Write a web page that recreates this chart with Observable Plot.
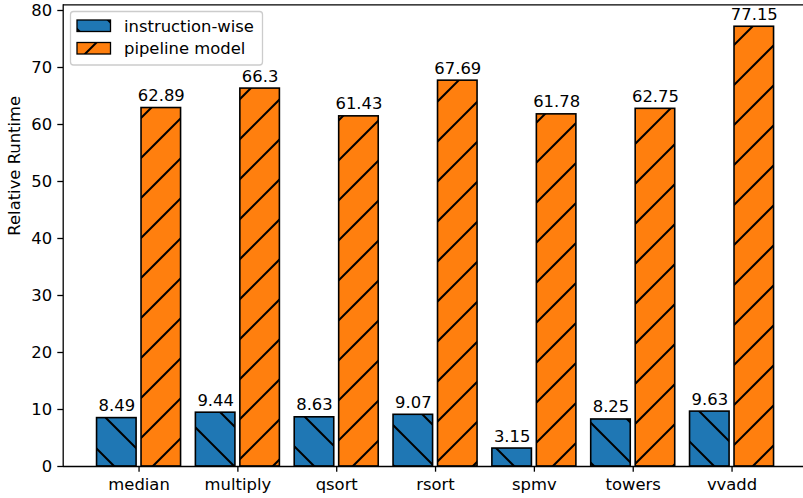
<!DOCTYPE html>
<html><head><meta charset="utf-8">
<script src="https://cdn.jsdelivr.net/npm/d3@7"></script>
<script src="https://cdn.jsdelivr.net/npm/@observablehq/plot@0.6"></script>
<style>body{margin:0;background:#fff} svg{display:block}</style>
</head><body><div id="chart"></div>
<script>
const categories = ["median", "multiply", "qsort", "rsort", "spmv", "towers", "vvadd"];
const instructionWise = [8.49, 9.44, 8.63, 9.07, 3.15, 8.25, 9.63];
const pipelineModel = [62.89, 66.3, 61.43, 67.69, 61.78, 62.75, 77.15];
const seriesNames = ["instruction-wise", "pipeline model"];
const yTicks = [0, 10, 20, 30, 40, 50, 60, 70, 80];

const barWidth = 0.4, offset = 0.225;
const blueRows = categories.map((c, i) => ({series: seriesNames[0], cat: c, x1: i - offset - barWidth / 2, x2: i - offset + barWidth / 2, value: instructionWise[i]}));
const orangeRows = categories.map((c, i) => ({series: seriesNames[1], cat: c, x1: i + offset - barWidth / 2, x2: i + offset + barWidth / 2, value: pipelineModel[i]}));
const allRows = blueRows.concat(orangeRows);

const xMin = -0.7675, xMax = 6.7675, yMax = 81.0;
const FS = 16.4;

const plot = Plot.plot({
  width: 803,
  height: 498,
  marginLeft: 63,
  marginRight: 0,
  marginTop: 4.3,
  marginBottom: 32,
  style: {fontFamily: "'DejaVu Sans', sans-serif", fontSize: FS + "px", background: "white", color: "black"},
  x: {domain: [xMin, xMax], range: [62.7, 807.4]},
  y: {domain: [0, yMax]},
  marks: [
    Plot.rectY(blueRows, {x1: "x1", x2: "x2", y: "value", fill: "url(#hatch-blue)", stroke: "black", strokeWidth: 1.6}),
    Plot.rectY(orangeRows, {x1: "x1", x2: "x2", y: "value", fill: "url(#hatch-orange)", stroke: "black", strokeWidth: 1.6}),
    Plot.text(allRows, {x: d => (d.x1 + d.x2) / 2, y: "value", text: d => String(d.value), lineAnchor: "bottom", dy: -7, fontSize: FS, fill: "black"}),
    Plot.ruleX([xMin], {stroke: "black", strokeWidth: 1.3}),
    Plot.ruleY([0], {stroke: "black", strokeWidth: 1.3}),
    Plot.ruleY([yMax], {stroke: "black", strokeWidth: 1.3}),
    Plot.axisY({ticks: yTicks, tickSize: 5.7, tickPadding: 5.7, fontSize: FS, strokeWidth: 1.3, label: null}),
    Plot.axisX({ticks: categories.map((_, i) => i), tickFormat: i => categories[i], tickSize: 5.7, tickPadding: 5.7, fontSize: FS, strokeWidth: 1.3, label: null}),
    Plot.text(["Relative Runtime"], {frameAnchor: "left", rotate: -90, dx: -48.7, fontSize: FS, fill: "black"})
  ]
});

const svg = d3.select(plot);
svg.insert("defs", ":first-child").html(`
<pattern id="hatch-blue" patternUnits="userSpaceOnUse" width="40" height="40">
  <rect width="40" height="40" fill="#1f77b4"/>
  <path d="M6,-2 L42,34 M-2,30 L10,42" stroke="black" stroke-width="2" fill="none"/>
</pattern>
<pattern id="hatch-orange" patternUnits="userSpaceOnUse" width="40" height="40">
  <rect width="40" height="40" fill="#ff7f0e"/>
  <path d="M21,-2 L-2,21 M42,17 L17,42" stroke="black" stroke-width="2" fill="none"/>
</pattern>`);

const lg = svg.append("g").attr("text-anchor", "start");
lg.append("rect").attr("x", 70.5).attr("y", 11.5).attr("width", 192).attr("height", 53.5).attr("rx", 3)
  .attr("fill", "white").attr("fill-opacity", 0.8).attr("stroke", "#cccccc").attr("stroke-width", 1.3);
const legendFills = ["url(#hatch-blue)", "url(#hatch-orange)"];
seriesNames.forEach((name, k) => {
  const yb = 20 + k * 22.5;
  lg.append("rect").attr("x", 77).attr("y", yb).attr("width", 33.5).attr("height", 11.5)
    .attr("fill", legendFills[k]).attr("stroke", "black").attr("stroke-width", 1.3);
  lg.append("text").attr("x", 124).attr("y", yb + 11.5).attr("font-size", FS).attr("text-anchor", "start")
    .attr("font-family", "'DejaVu Sans', sans-serif").attr("fill", "black").text(name);
});

document.getElementById("chart").appendChild(plot);
</script>
</body></html>
